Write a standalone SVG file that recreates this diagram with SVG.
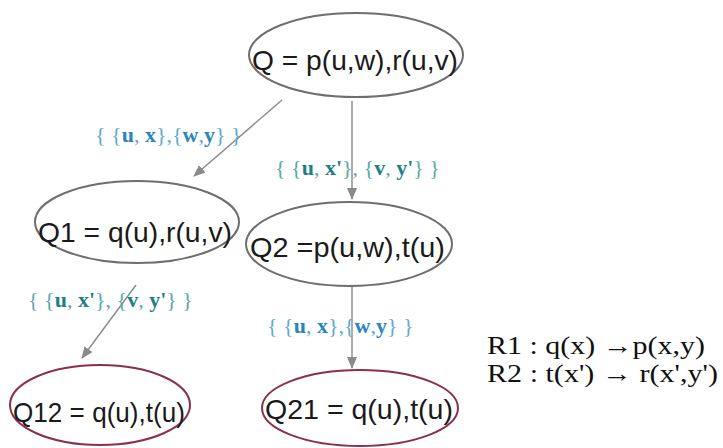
<svg xmlns="http://www.w3.org/2000/svg" width="723" height="448" viewBox="0 0 723 448">
<style>
.bg{fill:#fff}
.n{fill:none;stroke:#6e6e6e;stroke-width:2}
.r{fill:none;stroke:#8a2f4e;stroke-width:2}
.t{font-family:"Liberation Sans",Arial,sans-serif;font-size:28px;fill:#1a1a1a}
.e{stroke:#8a8a8a;stroke-width:1.4;fill:none}
.lb{font-family:"Liberation Serif","Times New Roman",serif;font-size:22px}
.blue{fill:#5fa9d0}
.blue .b{fill:#2a86bd;font-weight:bold}
.teal{fill:#5aa8a8}
.teal .b{fill:#1f7f86;font-weight:bold}
.rule{font-family:"Liberation Serif","Times New Roman",serif;font-size:25px;fill:#111}
</style>
<defs>
<marker id="ah" viewBox="0 0 12 10" refX="11" refY="5" markerWidth="12" markerHeight="10" markerUnits="userSpaceOnUse" orient="auto">
<path d="M0,0 L12,5 L0,10 Z" fill="#8a8a8a"/>
</marker>
</defs>
<rect class="bg" x="0" y="0" width="723" height="448"/>
<g id="connectors">
<line class="e" x1="282" y1="100" x2="194" y2="176" marker-end="url(#ah)"/>
<line class="e" x1="352" y1="101" x2="352" y2="199" marker-end="url(#ah)"/>
<line class="e" x1="136" y1="285" x2="82" y2="358" marker-end="url(#ah)"/>
<line class="e" x1="352" y1="286" x2="352" y2="368" marker-end="url(#ah)"/>
</g>
<g id="labels">
<text class="lb blue" x="95" y="142">{ {<tspan class="b">u</tspan>, <tspan class="b">x</tspan>},{<tspan class="b">w</tspan>,<tspan class="b">y</tspan>} }</text>
<text class="lb teal" x="275" y="175">{ {<tspan class="b">u</tspan>, <tspan class="b">x'</tspan>}, {<tspan class="b">v</tspan>, <tspan class="b">y'</tspan>} }</text>
<text class="lb teal" x="28" y="307">{ {<tspan class="b">u</tspan>, <tspan class="b">x'</tspan>}, {<tspan class="b">v</tspan>, <tspan class="b">y'</tspan>} }</text>
<text class="lb blue" x="267" y="333">{ {<tspan class="b">u</tspan>, <tspan class="b">x</tspan>},{<tspan class="b">w</tspan>,<tspan class="b">y</tspan>} }</text>
</g>
<g id="Q">
<ellipse class="n" cx="356" cy="55" rx="107" ry="42"/>
<text class="t" x="252" y="70" textLength="206" lengthAdjust="spacingAndGlyphs">Q = p(u,w),r(u,v)</text>
</g>
<g id="Q1">
<ellipse class="n" cx="137" cy="222" rx="102" ry="41"/>
<text class="t" x="38" y="242" textLength="194" lengthAdjust="spacingAndGlyphs">Q1 = q(u),r(u,v)</text>
</g>
<g id="Q2">
<ellipse class="n" cx="349" cy="244" rx="103" ry="42"/>
<text class="t" x="250" y="257" textLength="195" lengthAdjust="spacingAndGlyphs">Q2 =p(u,w),t(u)</text>
</g>
<g id="Q12">
<ellipse class="r" cx="100" cy="405" rx="90" ry="40"/>
<text class="t" x="13" y="422" textLength="172" lengthAdjust="spacingAndGlyphs">Q12 = q(u),t(u)</text>
</g>
<g id="Q21">
<ellipse class="r" cx="360" cy="408" rx="98" ry="38"/>
<text class="t" x="265" y="419" textLength="188" lengthAdjust="spacingAndGlyphs">Q21 = q(u),t(u)</text>
</g>
<g id="rules">
<text class="rule" x="487" y="354" textLength="218" lengthAdjust="spacingAndGlyphs">R1 : q(x) →p(x,y)</text>
<text class="rule" x="487" y="382" textLength="231" lengthAdjust="spacingAndGlyphs">R2 : t(x') → r(x',y')</text>
</g>
</svg>
